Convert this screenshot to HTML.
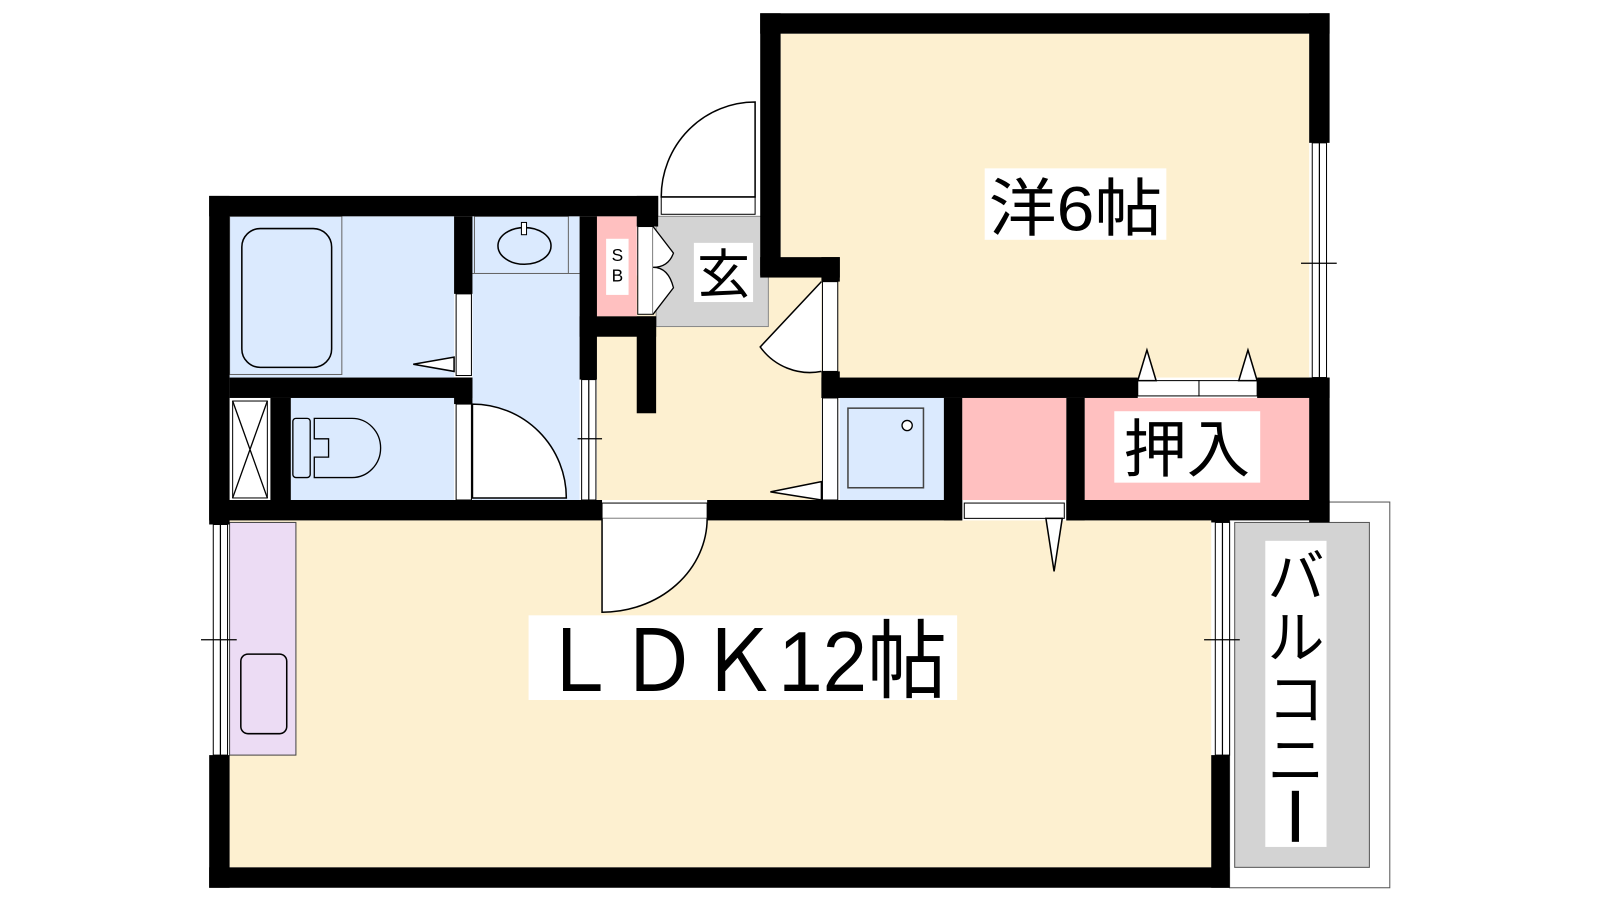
<!DOCTYPE html>
<html><head><meta charset="utf-8"><style>
html,body{margin:0;padding:0;background:#fff;width:1600px;height:900px;overflow:hidden}
svg{display:block}
text{font-family:"Liberation Sans","Noto Sans CJK JP",sans-serif;fill:#000}
</style></head><body>
<svg width="1600" height="900" viewBox="0 0 1568 882" xmlns="http://www.w3.org/2000/svg">
<!-- floors -->
<rect x="765" y="33" width="518" height="337" fill="#fdf0d0"/>
<rect x="225" y="510" width="962" height="340" fill="#fdf0d0"/>
<rect x="585" y="270" width="220" height="220" fill="#fdf0d0"/>
<rect x="643" y="212" width="110" height="108" fill="#d3d3d3" stroke="#888" stroke-width="1"/>
<!-- bath -->
<rect x="225" y="212" width="220" height="158" fill="#dbeafe"/>
<rect x="225" y="212" width="110" height="155" fill="#dbeafe" stroke="#666" stroke-width="1"/>
<rect x="237" y="224" width="88" height="136" rx="18" fill="none" stroke="#000" stroke-width="1.5"/>
<!-- washroom -->
<rect x="463" y="212" width="105" height="278" fill="#dbeafe"/>
<rect x="465" y="212" width="92" height="56" fill="#dbeafe" stroke="#666" stroke-width="1"/>
<ellipse cx="514" cy="241" rx="26" ry="18" fill="none" stroke="#000" stroke-width="1.5"/>
<rect x="511" y="218" width="5" height="12" fill="#fff" stroke="#000" stroke-width="1"/>
<line x1="463" y1="268" x2="568" y2="268" stroke="#666"/>
<!-- toilet -->
<rect x="285" y="390" width="160" height="100" fill="#dbeafe"/>
<rect x="287" y="410" width="17" height="58" rx="3" fill="none" stroke="#000" stroke-width="1.3"/>
<path d="M308 410 H345 A28 29 0 0 1 345 468 H308 V448 H322 V430 H308 Z" fill="none" stroke="#000" stroke-width="1.3"/>
<rect x="228" y="393" width="34" height="95" fill="#fff" stroke="#000" stroke-width="1"/>
<path d="M228 393 L262 488 M262 393 L228 488" stroke="#000" stroke-width="1.3"/>
<!-- SB -->
<rect x="584" y="212" width="40" height="98" fill="#ffc0c0"/>
<rect x="594" y="234" width="22" height="55" fill="#fff"/>
<text x="605" y="256" font-size="17" text-anchor="middle">S</text>
<text x="605" y="276" font-size="17" text-anchor="middle">B</text>
<rect x="625" y="222" width="15" height="86" fill="#fff" stroke="#000" stroke-width="1"/>
<path d="M640 222 L660 248 Q655 262 640 262 M640 308 L660 282 Q655 262 640 262" fill="#fff" stroke="#000" stroke-width="1.3"/>
<!-- kitchen -->
<rect x="225" y="512" width="65" height="228" fill="#ecdcf4" stroke="#444" stroke-width="1"/>
<rect x="236" y="641" width="45" height="78" rx="7" fill="none" stroke="#000" stroke-width="1.5"/>
<!-- washer -->
<rect x="823" y="390" width="102" height="100" fill="#dbeafe"/>
<rect x="831" y="400" width="74" height="78" fill="none" stroke="#444" stroke-width="1.5"/>
<circle cx="889" cy="417" r="5" fill="#fff" stroke="#000" stroke-width="1.3"/>
<!-- closets -->
<rect x="943" y="390" width="102" height="100" fill="#ffc0c0"/>
<rect x="1063" y="390" width="220" height="100" fill="#ffc0c0"/>
<!-- balcony -->
<rect x="1205" y="492" width="157" height="378" fill="#fff" stroke="#555" stroke-width="1"/>
<rect x="1210" y="512" width="132" height="338" fill="#d3d3d3" stroke="#555" stroke-width="1"/>
<!-- walls -->
<g fill="#000">
<rect x="205" y="192" width="440" height="20"/>
<rect x="205" y="192" width="20" height="322"/>
<rect x="205" y="740" width="20" height="130"/>
<rect x="205" y="850" width="1000" height="20"/>
<rect x="1187" y="740" width="18" height="130"/>
<rect x="1187" y="490" width="18" height="22"/>
<rect x="745" y="13" width="558" height="20"/>
<rect x="745" y="13" width="20" height="257"/>
<rect x="745" y="252" width="78" height="20"/>
<rect x="805" y="252" width="18" height="24"/>
<rect x="805" y="364" width="18" height="26"/>
<rect x="1283" y="13" width="20" height="127"/>
<rect x="1283" y="370" width="20" height="142"/>
<rect x="805" y="370" width="310" height="20"/>
<rect x="1232" y="370" width="71" height="20"/>
<rect x="205" y="490" width="385" height="20"/>
<rect x="693" y="490" width="250" height="20"/>
<rect x="1045" y="490" width="258" height="20"/>
<rect x="925" y="390" width="18" height="120"/>
<rect x="1045" y="390" width="18" height="120"/>
<rect x="445" y="212" width="18" height="76"/>
<rect x="225" y="370" width="238" height="20"/>
<rect x="445" y="370" width="18" height="26"/>
<rect x="265" y="390" width="20" height="100"/>
<rect x="568" y="212" width="17" height="160"/>
<rect x="568" y="310" width="75" height="20"/>
<rect x="624" y="310" width="19" height="95"/>
<rect x="624" y="192" width="21" height="30"/>
</g>
<!-- windows -->
<g fill="#fff" stroke="#000" stroke-width="1">
<rect x="209" y="514" width="14" height="226"/>
<rect x="1191" y="512" width="14" height="228"/>
<rect x="1286" y="140" width="14" height="230"/>
<rect x="570" y="372" width="14" height="118"/>
<rect x="1115" y="373" width="60" height="15"/><rect x="1175" y="373" width="57" height="15"/>
<rect x="945" y="493" width="98" height="15"/>
<rect x="590" y="493" width="103" height="15"/>
<rect x="648" y="193" width="92" height="17"/>
<rect x="806" y="276" width="15" height="88"/>
<rect x="447" y="288" width="15" height="80"/>
<rect x="447" y="396" width="15" height="94"/>
<rect x="806" y="390" width="15" height="100"/>
</g>
<g stroke="#000" stroke-width="1.2">
<line x1="216" y1="514" x2="216" y2="740"/><line x1="197" y1="627" x2="232" y2="627"/>
<line x1="1198" y1="512" x2="1198" y2="740"/><line x1="1180" y1="627" x2="1215" y2="627"/>
<line x1="1293" y1="140" x2="1293" y2="370"/><line x1="1275" y1="258" x2="1310" y2="258"/>
<line x1="577" y1="372" x2="577" y2="490"/><line x1="566" y1="430" x2="590" y2="430"/>
</g>
<!-- doors -->
<g fill="#fff" stroke="#000" stroke-width="1.5">
<path d="M740 193 V100 A92 93 0 0 0 648 193 Z"/>
<path d="M590 508 V600 A103 92 0 0 0 693 508"/>
<path d="M463 396 V488 H555 A92 92 0 0 0 463 396 Z"/>
<path d="M805 276 L745 340 A60 60 0 0 0 805 364"/>
<path d="M445 350 L405 357 L445 364 Z"/>
<path d="M805 472 L755 482 L805 490 Z"/>
<path d="M1025 508 L1033 560 L1041 508 Z"/>
<path d="M1115 373 L1124 343 L1133 373 Z"/>
<path d="M1214 373 L1223 343 L1232 373 Z"/>
</g>
<!-- labels -->
<rect x="965" y="165" width="178" height="70" fill="#fff"/>
<text x="1054" y="226" font-size="62" text-anchor="middle" textLength="170" lengthAdjust="spacingAndGlyphs">洋6帖</text>
<rect x="518" y="603" width="420" height="83" fill="#fff"/>
<text x="728" y="677" font-size="84" text-anchor="middle" textLength="400" lengthAdjust="spacingAndGlyphs">ＬＤＫ12帖</text>
<rect x="1092" y="403" width="143" height="70" fill="#fff"/>
<text x="1163" y="462" font-size="62" text-anchor="middle">押入</text>
<rect x="680" y="238" width="58" height="58" fill="#fff"/>
<text x="709" y="287" font-size="52" text-anchor="middle">玄</text>
<rect x="1240" y="530" width="60" height="300" fill="#fff"/>
<g font-size="56" text-anchor="middle">
<text x="1270" y="585">バ</text>
<text x="1270" y="645">ル</text>
<text x="1270" y="705">コ</text>
<text x="1270" y="765">ニ</text>
</g>
<rect x="1266" y="775" width="7" height="50" fill="#000"/>
</svg>
</body></html>
